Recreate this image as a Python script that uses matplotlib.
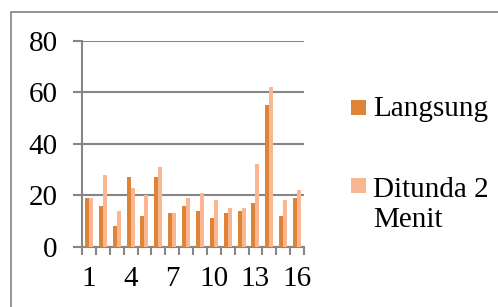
import matplotlib
matplotlib.use("Agg")
import matplotlib.pyplot as plt
from matplotlib.patches import Rectangle
import numpy as np

categories = [str(i) for i in range(1, 17)]
langsung = [19, 16, 8, 27, 12, 27, 13, 16, 14, 11, 13, 14, 17, 55, 12, 19]
ditunda = [19, 28, 14, 23, 20, 31, 13, 19, 21, 18, 15, 15, 32, 62, 18, 22]
series_names = ["Langsung", "Ditunda 2", "Menit"]
tick_labels = ["1", "4", "7", "10", "13", "16"]
yticks = [0, 20, 40, 60, 80]

plt.rcParams['font.family'] = ['Liberation Serif', 'DejaVu Serif']

c_l = "#DD8438"
c_d = "#FAB691"
grid_c = "#868686"
FS = 21

W, H = 498, 307
fig = plt.figure(figsize=(W/100, H/100), dpi=100)
ax = fig.add_axes([82/W, 60.3/H, 222/W, 205.7/H])

x = np.arange(len(categories))
w = 1/3.5
ax.bar(x - w/2, langsung, width=w, color=c_l, zorder=3, linewidth=0)
ax.bar(x + w/2, ditunda, width=w, color=c_d, zorder=3, linewidth=0)

ax.set_xlim(-0.5, len(categories) - 0.5)
ax.set_ylim(0, 80)
ax.set_yticks(yticks)
ax.set_yticklabels([str(v) for v in yticks], fontsize=FS)
ax.yaxis.grid(True, color=grid_c, linewidth=1.5, zorder=1)
ax.tick_params(axis='y', length=6.5, width=1.5, color=grid_c, pad=11)

lab_pos = [categories.index(t) for t in tick_labels]
ax.set_xticks(lab_pos)
ax.set_xticklabels(tick_labels, fontsize=FS)
ax.set_xticks(np.arange(-0.5, len(categories)), minor=True)
ax.tick_params(axis='x', which='major', length=0, pad=14)
ax.tick_params(axis='x', which='minor', length=6, width=1.5, color=grid_c)

for s in ['top', 'right']:
    ax.spines[s].set_visible(False)
for s in ['left', 'bottom']:
    ax.spines[s].set_color(grid_c)
    ax.spines[s].set_linewidth(1.5)
ax.set_axisbelow(True)

# manual legend
def px(xp, yp):
    return xp / W, 1 - yp / H

for (sq_top, col) in [(100, c_l), (178, c_d)]:
    x0, y0 = px(351, sq_top + 15)
    fig.patches.append(Rectangle((x0, y0), 15/W, 15/H, transform=fig.transFigure,
                                 facecolor=col, edgecolor='none'))
for name, base in zip(series_names, [116, 197, 227]):
    tx, ty = px(373, base)
    fig.text(tx, ty, name, fontsize=FS, va='baseline', ha='left')

border = Rectangle((11/W, -0.1), 1.2, 1 - 12/H + 0.1, transform=fig.transFigure,
                   fill=False, edgecolor="#8C8C8C", linewidth=1.3)
fig.patches.append(border)

fig.savefig("out.png", dpi=100)
